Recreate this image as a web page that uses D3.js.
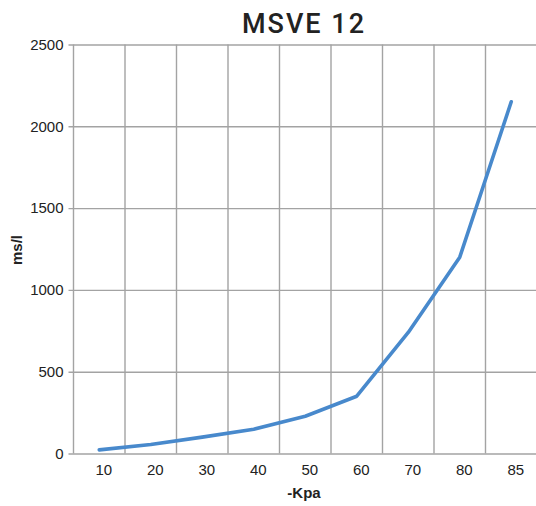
<!DOCTYPE html>
<html lang="en">
<head>
  <meta charset="UTF-8">
  <title>MSVE 12</title>
  <script src="https://d3js.org/d3.v7.min.js"></script>
  <style>
    body { margin: 0; background: #fff; }
    svg { display: block; }
  </style>
</head>
<body>
  <script>
    // data
    var pressure = ["10", "20", "30", "40", "50", "60", "70", "80", "85"];
    var msl = [22, 55, 100, 148, 228, 350, 740, 1200, 2150];
    var yTicks = [0, 500, 1000, 1500, 2000, 2500];

    var w = 536, h = 506;
    var margin = { top: 44.5, right: -1, bottom: 52.5, left: 73.5 };
    var width = w - margin.left - margin.right;
    var height = h - margin.top - margin.bottom;

    var x = d3.scaleBand().domain(pressure).range([0, width]);
    var y = d3.scaleLinear().domain([0, 2500]).range([height, 0]);

    var svg = d3.select("body").append("svg")
      .attr("width", w)
      .attr("height", h);

    var g = svg.append("g")
      .attr("transform", "translate(" + margin.left + "," + margin.top + ")");

    var gridColor = "#a3a3a3";
    var labelFont = "'Liberation Sans', Arial, sans-serif";

    // horizontal grid + y ticks
    var yAxis = g.append("g")
      .call(d3.axisLeft(y).tickValues(yTicks).tickFormat(d3.format("d"))
        .tickSize(-width).tickPadding(10).tickSizeOuter(0));
    yAxis.attr("font-size", 15).attr("font-family", labelFont);
    yAxis.select(".domain").remove();
    yAxis.selectAll(".tick text").attr("fill", "#222");
    yAxis.selectAll(".tick line")
      .attr("x1", -5)
      .attr("stroke", gridColor)
      .attr("stroke-width", 1.4);

    // vertical grid lines on category borders
    var borders = pressure.map(function (d) { return x(d); });
    g.append("g").selectAll("line")
      .data(borders)
      .enter().append("line")
      .attr("x1", function (d) { return d; })
      .attr("x2", function (d) { return d; })
      .attr("y1", 0)
      .attr("y2", height)
      .attr("stroke", gridColor)
      .attr("stroke-width", 1.4);

    // x axis labels
    var xAxis = g.append("g")
      .attr("transform", "translate(0," + height + ")")
      .call(d3.axisBottom(x).tickSize(0).tickPadding(11));
    xAxis.attr("font-size", 15).attr("font-family", labelFont);
    xAxis.select(".domain").remove();
    xAxis.selectAll(".tick text").attr("dx", 4.5).attr("fill", "#222");

    // the curve
    var line = d3.line()
      .x(function (d, i) { return x(pressure[i]) + x.bandwidth() / 2; })
      .y(function (d) { return y(d); });

    g.append("path")
      .datum(msl)
      .attr("fill", "none")
      .attr("stroke", "#4889cc")
      .attr("stroke-width", 3.6)
      .attr("stroke-linecap", "round")
      .attr("stroke-linejoin", "round")
      .attr("d", line);

    // title
    svg.append("text")
      .attr("x", 304)
      .attr("y", 33)
      .attr("text-anchor", "middle")
      .attr("font-family", "Roboto, sans-serif")
      .attr("font-weight", 500)
      .attr("font-size", "27px")
      .attr("letter-spacing", "2px")
      .attr("fill", "#222")
      .text("MSVE 12");

    // axis titles
    svg.append("text")
      .attr("transform", "translate(22,250) rotate(-90)")
      .attr("text-anchor", "middle")
      .attr("font-family", labelFont)
      .attr("font-weight", "bold")
      .attr("font-size", "15px")
      .attr("fill", "#222")
      .text("ms/l");

    svg.append("text")
      .attr("x", 304)
      .attr("y", 498)
      .attr("text-anchor", "middle")
      .attr("font-family", labelFont)
      .attr("font-weight", "bold")
      .attr("font-size", "15px")
      .attr("fill", "#222")
      .text("-Kpa");
  </script>
</body>
</html>
